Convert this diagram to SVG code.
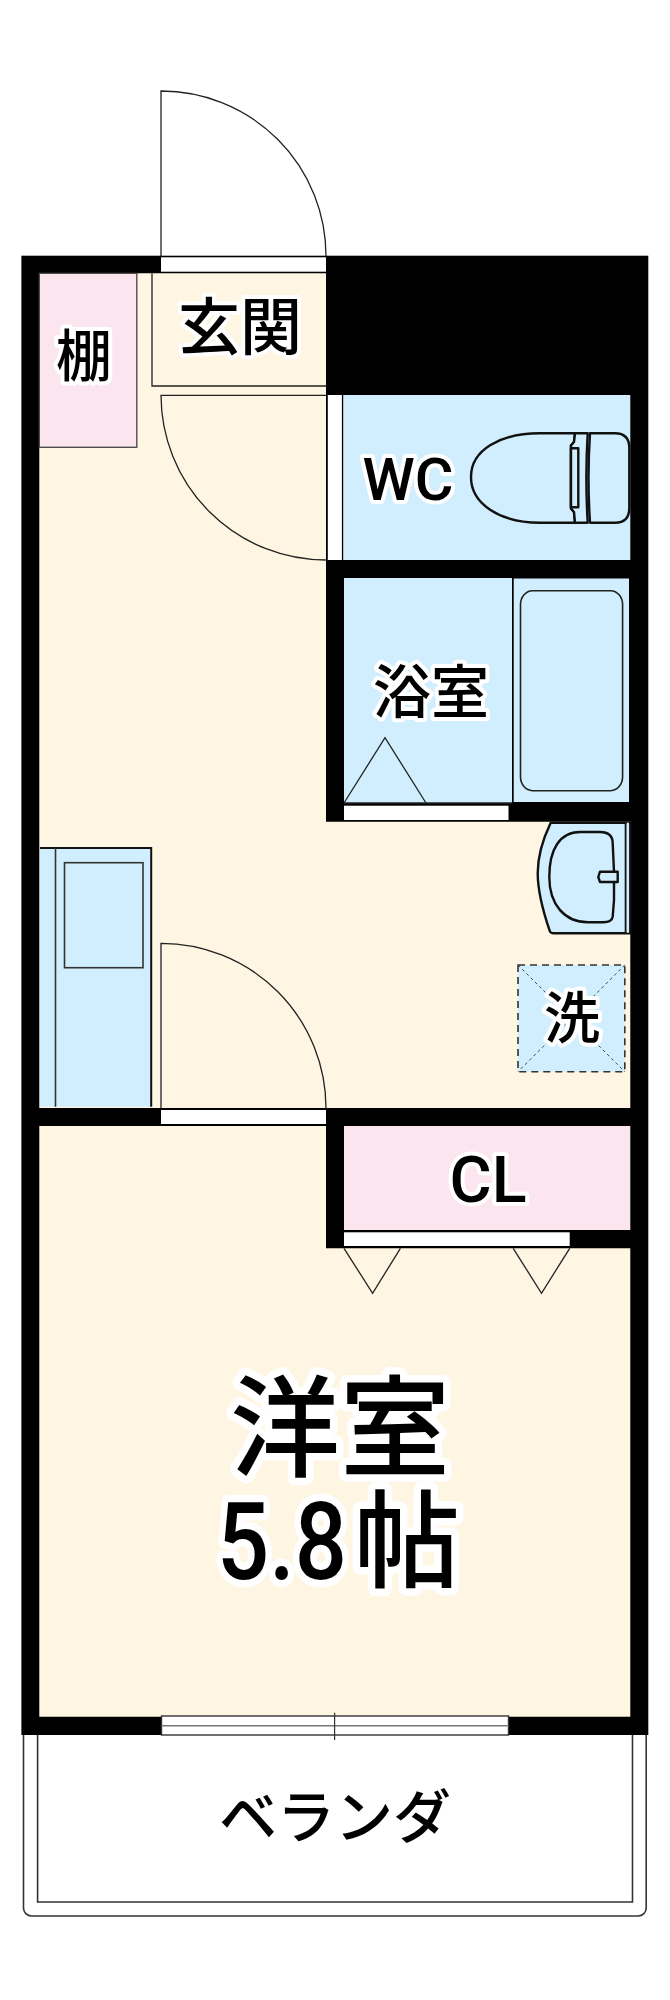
<svg xmlns="http://www.w3.org/2000/svg" width="670" height="2000" viewBox="0 0 670 2000">
<style>
.floor{fill:#fef5e2}
.blue{fill:#d0eefd}
.pink{fill:#fbe6f0}
.thin{fill:none;stroke:#222;stroke-width:1.3}
.bold{fill:#d0eefd;stroke:#111;stroke-width:2.4;stroke-linejoin:round}
.gap{fill:#fff}
.t{font-family:"Noto Sans CJK JP","Noto Sans",sans-serif;font-weight:500;fill:#000;text-anchor:middle;stroke:#fff;stroke-width:8;stroke-linejoin:round;paint-order:stroke}
.l{font-family:Roboto,"Liberation Sans",Arial,sans-serif;font-weight:500;fill:#000;text-anchor:middle;stroke:#fff;stroke-width:8;stroke-linejoin:round;paint-order:stroke}
.big{stroke-width:15;text-anchor:start}
.num{font-family:Roboto,"Liberation Sans",Arial,sans-serif}
</style>
<rect width="670" height="2000" fill="#fff"/>
<g id="balcony">
<path d="M23.5 1735V1908a8 8 0 0 0 8 8H638.2a8 8 0 0 0 8-8V1735" fill="#fff" stroke="#333" stroke-width="1.6"/>
<path d="M37.6 1735V1902H632.5V1735" fill="none" stroke="#333" stroke-width="1.6"/>
</g>
<g id="entry-door-leaf">
<path d="M161 256V91A165 165 0 0 1 326 256" fill="#fff" stroke="#222" stroke-width="1.3"/>
</g>
<g id="walls">
<rect x="21.4" y="255.7" width="626.9" height="1479.3" fill="#000"/>
</g>
<g id="floors">
<path class="floor" d="M39.3 273.3H326V821.7H630.3V1108H39.3Z"/>
<path class="floor" d="M39.3 1126H326V1248.3H630.3V1716.7H39.3Z"/>
</g>
<g id="shelf">
<rect class="pink" x="39.3" y="273.3" width="97.5" height="174" stroke="#444" stroke-width="1.3"/>
</g>
<g id="entrance">
<path class="thin" d="M152 273.3V386H326"/>
<rect class="gap" x="161" y="257.3" width="165" height="14.4"/>
</g>
<g id="door-hall">
<path class="thin" d="M326 395.3H161A165 165 0 0 0 326 560"/>
</g>
<g id="wc">
<rect class="blue" x="343.2" y="395" width="287.1" height="165"/>
<rect class="gap" x="327.8" y="395" width="14.1" height="165"/>
<path class="bold" d="M575 433.3H540C500 433.3 471 450 471 477S500 522.7 540 522.7H575L574 512L571 508.5V445.5L574 442Z"/>
<path class="bold" d="M575 433.3H587.7Q585 477 587.7 522.7H575L574 512L571 508.5V445.5L574 442Z"/>
<rect class="bold" x="571" y="448.3" width="7.3" height="59"/>
<path class="bold" d="M590 433.3H615Q629.3 433.3 629.3 448V508Q629.3 522.7 615 522.7H590Q587 477 590 433.3Z"/>
</g>
<g id="bath">
<rect class="blue" x="344" y="578" width="168" height="225"/>
<rect class="blue" x="513.7" y="578.5" width="115.3" height="223.5"/>
<rect x="520.5" y="590.7" width="102.1" height="200" rx="12" ry="14" fill="none" stroke="#222" stroke-width="1.6"/>
<path class="thin" d="M344 803L385 737.7L426 803"/>
<path d="M344 803H512" stroke="#222" stroke-width="1.3" fill="none"/>
<rect class="gap" x="344" y="805.7" width="164.5" height="14.3"/>
</g>
<g id="basin">
<path class="bold" d="M550.7 822.7Q537.7 850 537.7 873T550 931.7Q551 933.3 553 933.3H630.3V822.7Z" stroke-width="2"/>
<path d="M625.7 822.7V933.3" stroke="#111" stroke-width="2"/>
<rect x="626.7" y="822.7" width="2.3" height="110" fill="#d0eefd"/>
<path class="bold" d="M580 832H600Q612.7 832 612.7 843.3L614 871.7V900L612.7 916.7Q612 922.3 603 922.3H588C565 922.3 549.3 905 549.3 877S560 832 580 832Z"/>
<path class="bold" d="M600 871.7H617.7V882H600L598.3 877Z"/>
</g>
<g id="kitchen">
<rect class="blue" x="40" y="848" width="111" height="258.7"/>
<path d="M40 848H151.2V1106.7" fill="none" stroke="#111" stroke-width="2"/>
<path d="M55.5 848V1106.7" stroke="#333" stroke-width="1.6"/>
<rect class="blue" x="64.5" y="862.7" width="78.5" height="105" stroke="#333" stroke-width="1.6"/>
</g>
<g id="door-room">
<path class="thin" d="M161 1108V943.3A165 165 0 0 1 326 1108"/>
<rect class="gap" x="161" y="1110" width="165" height="14"/>
</g>
<g id="washer">
<rect class="blue" x="518" y="965" width="106.8" height="106.7" stroke="#333" stroke-width="1.6" stroke-dasharray="7 5"/>
<path d="M518 965L624.8 1071.7M624.8 965L518 1071.7" stroke="#333" stroke-width="0.9" stroke-dasharray="3 3" fill="none"/>
</g>
<g id="closet">
<rect class="pink" x="344" y="1126" width="286.3" height="104"/>
<rect class="gap" x="344" y="1232.3" width="225.7" height="13.7"/>
<path class="thin" d="M344 1248.3L372.6 1293.3L400.4 1248.3M513.2 1248.3L541.5 1293.3L569.7 1248.3"/>
</g>
<g id="window">
<rect x="161.5" y="1716" width="347" height="19" fill="#fff" stroke="#333" stroke-width="1.4"/>
<path d="M161.5 1725.7H508.5" stroke="#777" stroke-width="1.4"/>
<path d="M334.6 1712.7V1740" stroke="#333" stroke-width="1.2"/>
</g>
<g id="labels">
<text class="t" x="84" y="376" font-size="56">棚</text>
<text class="t" x="240" y="350" font-size="62">玄関</text>
<text class="l" x="408" y="500" font-size="60" textLength="91" lengthAdjust="spacingAndGlyphs">WC</text>
<text class="t" x="431" y="713" font-size="58">浴室</text>
<text class="t" x="572" y="1038" font-size="56">洗</text>
<text class="l" x="488" y="1202" font-size="64" textLength="77" lengthAdjust="spacingAndGlyphs">CL</text>
<text class="t big" x="230" y="1468" font-size="110">洋室</text>
<text class="t big" font-size="106" y="1579"><tspan class="num" x="217" font-size="108" textLength="130" lengthAdjust="spacingAndGlyphs">5.8</tspan><tspan x="354">帖</tspan></text>
<text class="t" x="335" y="1838" font-size="58" style="stroke:none">ベランダ</text>
</g>
</svg>
